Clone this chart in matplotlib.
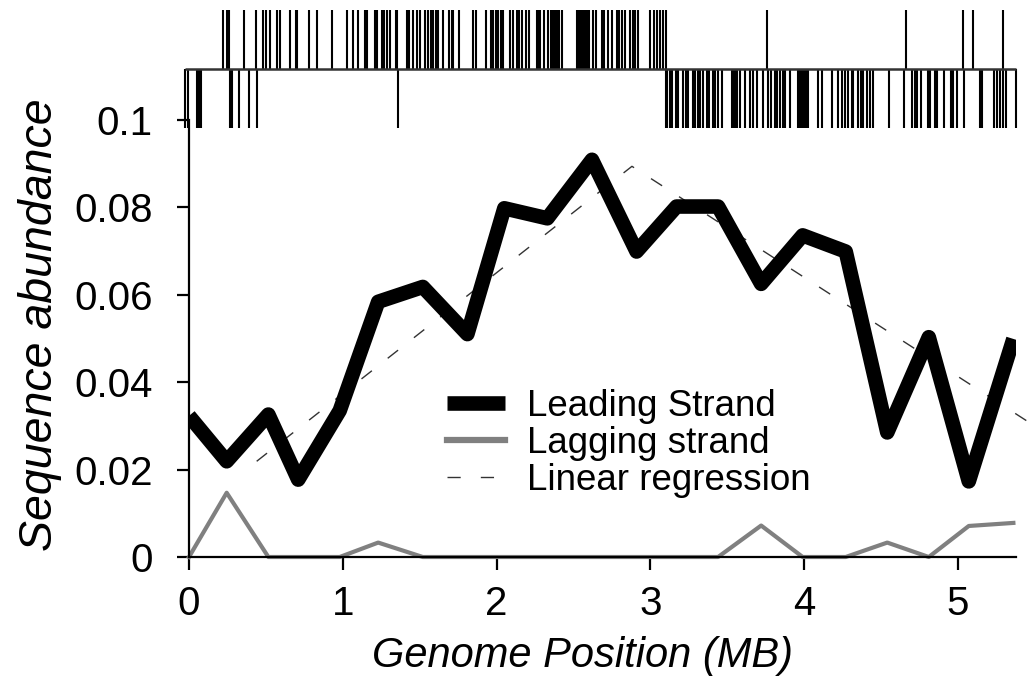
import matplotlib
matplotlib.use("Agg")
import matplotlib.pyplot as plt

plt.rcParams["font.family"] = ["Liberation Sans", "DejaVu Sans"]

# abundance per genome window (MB)
pos = [0.00, 0.245, 0.516, 0.71, 0.98, 1.23, 1.52, 1.81, 2.05, 2.33, 2.62,
       2.91, 3.17, 3.44, 3.72, 3.99, 4.27, 4.54, 4.81, 5.07, 5.36]
leading = [0.0323, 0.0219, 0.0326, 0.0177, 0.0335, 0.0584, 0.0618, 0.0510,
           0.0798, 0.0775, 0.0909, 0.0699, 0.0802, 0.0802, 0.0625, 0.0736,
           0.0699, 0.0285, 0.0503, 0.0173, 0.0499]
lagging = [0.0, 0.0147, 0.0, 0.0, 0.0, 0.0033, 0.0, 0.0, 0.0, 0.0, 0.0,
           0.0, 0.0, 0.0, 0.0072, 0.0, 0.0, 0.0033, 0.0, 0.0071, 0.0078]
reg_x = [0.44, 2.88, 5.48]
reg_y = [0.0219, 0.0894, 0.0304]

# gene positions (MB) on each strand, drawn as a rug above the plot
genes_top = [0.223, 0.245, 0.262, 0.358, 0.436, 0.483, 0.501, 0.527, 0.574, 0.592,
             0.657, 0.696, 0.704, 0.782, 0.830, 0.928, 1.025, 1.064, 1.101, 1.144,
             1.159, 1.209, 1.220, 1.253, 1.268, 1.285, 1.307, 1.346, 1.354, 1.415,
             1.432, 1.458, 1.484, 1.502, 1.534, 1.556, 1.572, 1.588, 1.606, 1.621,
             1.653, 1.692, 1.708, 1.718, 1.757, 1.848, 1.866, 1.931, 1.962, 1.979,
             1.996, 2.011, 2.027, 2.044, 2.087, 2.105, 2.131, 2.148, 2.163, 2.191,
             2.213, 2.261, 2.269, 2.282, 2.308, 2.336, 2.352, 2.367, 2.380, 2.393,
             2.406, 2.423, 2.523, 2.536, 2.549, 2.562, 2.575, 2.588, 2.601, 2.629,
             2.646, 2.683, 2.698, 2.726, 2.748, 2.781, 2.798, 2.813, 2.835, 2.867,
             2.885, 2.900, 2.921, 3.000, 3.022, 3.045, 3.062, 3.082, 3.100, 3.760,
             4.662, 5.034, 5.096, 5.294]
genes_bot = [-0.026, -0.005, 0.050, 0.062, 0.075, 0.267, 0.278, 0.327, 0.392, 0.444,
             1.361, 3.101, 3.110, 3.127, 3.138, 3.166, 3.181, 3.214, 3.231, 3.246,
             3.279, 3.290, 3.311, 3.322, 3.340, 3.366, 3.383, 3.409, 3.420, 3.441,
             3.464, 3.529, 3.542, 3.555, 3.562, 3.583, 3.615, 3.648, 3.669, 3.691,
             3.734, 3.767, 3.782, 3.810, 3.821, 3.843, 3.860, 3.875, 3.908, 3.962,
             3.975, 3.988, 4.001, 4.014, 4.027, 4.092, 4.114, 4.179, 4.222, 4.244,
             4.265, 4.287, 4.309, 4.319, 4.352, 4.367, 4.384, 4.406, 4.428, 4.445,
             4.553, 4.649, 4.699, 4.720, 4.735, 4.757, 4.807, 4.818, 4.851, 4.861,
             4.909, 4.952, 4.969, 4.991, 5.039, 5.143, 5.154, 5.234, 5.255, 5.273,
             5.294, 5.312, 5.377]

W, H = 1029, 680
fig = plt.figure(figsize=(W / 100, H / 100), dpi=100)
XMAX = 5.377

ax = fig.add_axes([189 / W, 1 - 557 / H, (1016 - 189) / W, (557 - 120) / H])
ax.plot(pos, leading, color="black", lw=10.5, solid_joinstyle="round",
        solid_capstyle="butt", label="Leading Strand", zorder=3)
ax.plot(pos, lagging, color="#808080", lw=3, label="Lagging strand",
        clip_on=False, zorder=2)
ax.plot(reg_x, reg_y, color="#333333", lw=1, dashes=(9.5, 14.5),
        label="Linear regression", clip_on=False, zorder=1)

ax.set_xlim(0, XMAX)
ax.set_ylim(0, 0.1)
ax.set_xticks([0, 1, 2, 3, 4, 5])
ax.set_yticks([0, 0.02, 0.04, 0.06, 0.08, 0.1])
ax.set_yticklabels(["0", "0.02", "0.04", "0.06", "0.08", "0.1"])
for s in ["top", "right"]:
    ax.spines[s].set_visible(False)
for s in ["left", "bottom"]:
    ax.spines[s].set_linewidth(1.6)
ax.tick_params(axis="both", labelsize=29, length=9, width=1.6)
ax.tick_params(axis="y", pad=17)
ax.tick_params(axis="x", pad=11)
ax.set_xlabel("Genome Position (MB)", fontsize=30, style="italic")
ax.set_ylabel("Sequence abundance", fontsize=33.5, style="italic")
ax.xaxis.set_label_coords((583 - 189) / 827, -(636 - 557) / 437)
ax.yaxis.set_label_coords((62 - 189) / 827, (557 - 325) / 437)

leg = ax.legend(loc="upper left", bbox_to_anchor=(447 / W, 1 - 389 / H),
                bbox_transform=fig.transFigure, frameon=False, fontsize=26.5,
                handlelength=1.57, handletextpad=0.6, labelspacing=0.05,
                borderpad=0, borderaxespad=0)
leg.get_lines()[1].set_linewidth(4.5)

# gene rug above the axes
rax = fig.add_axes([189 / W, 1 - 128 / H, (1016 - 189) / W, 118 / H])
rax.set_xlim(0, XMAX)
rax.set_ylim(0, 2)
rax.axis("off")
rax.vlines(genes_top, 1, 2, color="black", lw=1.5, clip_on=False)
rax.vlines(genes_bot, 0, 1, color="black", lw=1.5, clip_on=False)
rax.hlines(1, min(genes_bot), max(genes_bot), color="#333333", lw=1.8, clip_on=False)

fig.savefig("out.png", dpi=100)
